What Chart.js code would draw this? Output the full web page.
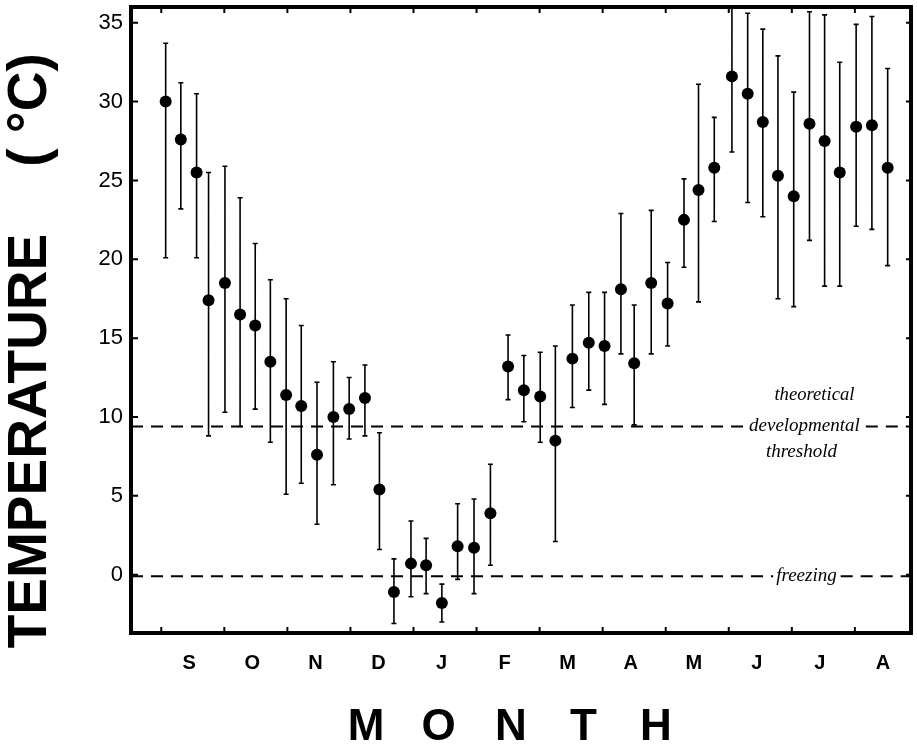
<!DOCTYPE html>
<html>
<head>
<meta charset="utf-8">
<script src="https://cdn.jsdelivr.net/npm/chart.js@4.4.1/dist/chart.umd.min.js"></script>
<style>
html,body{margin:0;padding:0;background:#fff;}
canvas{display:block;}
</style>
</head>
<body>
<canvas id="c" width="917" height="750"></canvas>
<script>
// ---- data ----
const monthLabels = ['S','O','N','D','J','F','M','A','M','J','J','A'];
const monthTicks  = [0,1,2,3,4,5,6,7,8,9,10,11];          // month boundaries (months since 1 Sept)
const tempTicks   = [0,5,10,15,20,25,30,35];

// sample positions (months since 1 Sept)
const sampleMonth = [0.07,0.31,0.56,0.75,1.01,1.25,1.49,1.73,1.98,2.22,2.47,2.73,2.98,3.23,3.46,3.69,
                     3.96,4.20,4.45,4.70,4.96,5.22,5.50,5.75,6.01,6.25,6.52,6.78,7.03,7.29,7.50,7.77,
                     8.03,8.29,8.52,8.77,9.05,9.30,9.54,9.78,10.03,10.28,10.52,10.76,11.02,11.27,11.52];
const meanTemp = [30.0,27.6,25.5,17.4,18.5,16.5,15.8,13.5,11.4,10.7,7.6,10.0,10.5,11.2,5.4,-1.1,
                  0.7,0.6,-1.8,1.8,1.7,3.9,13.2,11.7,11.3,8.5,13.7,14.7,14.5,18.1,13.4,18.5,
                  17.2,22.5,24.4,25.8,31.6,30.5,28.7,25.3,24.0,28.6,27.5,25.5,28.4,28.5,25.8];
const lowTemp  = [20.1,23.2,20.1,8.8,10.3,9.4,10.5,8.4,5.1,5.8,3.2,5.7,8.6,8.8,1.6,-3.1,
                  -1.4,-1.2,-3.0,-0.3,-1.2,0.6,11.1,9.7,8.4,2.1,10.6,11.7,10.8,14.0,9.5,14.0,
                  14.5,19.5,17.3,22.4,26.8,23.6,22.7,17.5,17.0,21.2,18.3,18.3,22.1,21.9,19.6];
const highTemp = [33.7,31.2,30.5,25.5,25.9,23.9,21.0,18.7,17.5,15.8,12.2,13.5,12.5,13.3,9.0,1.0,
                  3.4,2.3,-0.6,4.5,4.8,7.0,15.2,13.9,14.1,14.5,17.1,17.9,17.9,22.9,17.1,23.1,
                  19.8,25.1,31.1,29.0,36.0,35.6,34.6,32.9,30.6,35.7,35.5,32.5,34.9,35.4,32.1];

const thresholdTemp = 9.4;     // theoretical developmental threshold
const freezingTemp  = -0.1;    // freezing line as drawn
const thresholdText = ['theoretical','developmental','threshold'];
const freezingText  = 'freezing';
const yTitle = ['TEMPERATURE', '( °C)'];
const xTitle = 'MONTH';

// ---- drawing helpers ----
const SANS = '"Liberation Sans", Arial, Helvetica, sans-serif';
const HAND = '"Liberation Serif", "DejaVu Serif", serif';

const decor = {
  id: 'decor',
  beforeDatasetsDraw(chart) {
    const {ctx, chartArea: a, scales: {x, y}} = chart;
    ctx.save();
    ctx.beginPath();
    ctx.rect(a.left, a.top, a.right - a.left, a.bottom - a.top);
    ctx.clip();
    ctx.strokeStyle = '#000';
    ctx.fillStyle = '#000';

    // labels for the reference lines
    const labelX = x.getPixelForValue(10.2);
    ctx.font = 'italic 19px ' + HAND;
    ctx.textAlign = 'center';
    ctx.textBaseline = 'middle';
    const thY = y.getPixelForValue(thresholdTemp);
    const frY = y.getPixelForValue(freezingTemp);
    const devW = Math.min(ctx.measureText(thresholdText[1]).width, 126);
    const frW = Math.min(ctx.measureText(freezingText).width, 80);
    ctx.fillText(thresholdText[0], labelX + 10, thY - 31, 80);
    ctx.fillText(thresholdText[1], labelX, thY, 126);
    ctx.fillText(thresholdText[2], labelX - 3, thY + 26, 79);
    ctx.fillText(freezingText, labelX + 2, frY, 80);

    // dashed reference lines with gap for labels
    ctx.lineWidth = 2;
    ctx.setLineDash([12, 8]);
    ctx.beginPath();
    ctx.moveTo(a.left, thY); ctx.lineTo(labelX - devW / 2 - 4, thY);
    ctx.moveTo(labelX + devW / 2 + 6, thY); ctx.lineTo(a.right, thY);
    ctx.moveTo(a.left, frY); ctx.lineTo(labelX + 2 - frW / 2 - 3, frY);
    ctx.moveTo(labelX + 2 + frW / 2 + 4, frY); ctx.lineTo(a.right, frY);
    ctx.stroke();

    // error bars
    ctx.setLineDash([]);
    ctx.lineWidth = 1.6;
    ctx.beginPath();
    sampleMonth.forEach((m, i) => {
      const px = x.getPixelForValue(m);
      const yl = y.getPixelForValue(lowTemp[i]);
      const yh = y.getPixelForValue(highTemp[i]);
      ctx.moveTo(px, yl); ctx.lineTo(px, yh);
      ctx.moveTo(px - 2.5, yl); ctx.lineTo(px + 2.5, yl);
      ctx.moveTo(px - 2.5, yh); ctx.lineTo(px + 2.5, yh);
    });
    ctx.stroke();
    ctx.restore();
  },
  afterDatasetsDraw(chart) {
    const {ctx, chartArea: a, scales: {x, y}} = chart;
    ctx.save();
    ctx.strokeStyle = '#000';
    ctx.fillStyle = '#000';
    // frame
    ctx.lineWidth = 4;
    ctx.strokeRect(a.left, a.top, a.right - a.left, a.bottom - a.top);
    // inward ticks
    ctx.lineWidth = 2;
    ctx.beginPath();
    monthTicks.forEach(v => {
      const px = x.getPixelForValue(v);
      ctx.moveTo(px, a.bottom); ctx.lineTo(px, a.bottom - 6);
      ctx.moveTo(px, a.top); ctx.lineTo(px, a.top + 6);
    });
    tempTicks.forEach(v => {
      const py = y.getPixelForValue(v);
      ctx.moveTo(a.left, py); ctx.lineTo(a.left + 7, py);
      ctx.moveTo(a.right, py); ctx.lineTo(a.right - 5, py);
    });
    ctx.stroke();

    // y title (rotated)
    ctx.font = 'bold 55px ' + SANS;
    ctx.textAlign = 'center';
    ctx.textBaseline = 'middle';
    ctx.save();
    ctx.translate(31, 441);
    ctx.rotate(-Math.PI / 2);
    ctx.fillText(yTitle[0], 0, 0);
    ctx.restore();
    ctx.save();
    ctx.translate(31, 110);
    ctx.rotate(-Math.PI / 2);
    ctx.fillText(yTitle[1], 0, 0);
    ctx.restore();

    // x title, evenly spaced letters
    ctx.font = 'bold 44px ' + SANS;
    ctx.textBaseline = 'alphabetic';
    const letters = xTitle.split('');
    const step = 72.5;
    const cx = (x.left + x.right) / 2 - 10;
    letters.forEach((ch, i) => {
      ctx.fillText(ch, cx + (i - (letters.length - 1) / 2) * step, 740);
    });
    ctx.restore();
  }
};

new Chart(document.getElementById('c'), {
  type: 'scatter',
  data: {
    datasets: [{
      data: sampleMonth.map((m, i) => ({x: m, y: meanTemp[i]})),
      backgroundColor: '#000',
      borderWidth: 0,
      pointRadius: 6,
      pointHoverRadius: 6
    }]
  },
  options: {
    responsive: false,
    animation: false,
    devicePixelRatio: 1,
    layout: {padding: {top: 7, right: 2, left: 0, bottom: 0}},
    plugins: {legend: {display: false}, tooltip: {enabled: false}},
    scales: {
      x: {
        type: 'linear',
        min: -0.48,
        max: 11.89,
        grid: {display: false, drawTicks: false},
        border: {display: false},
        afterBuildTicks: s => { s.ticks = monthTicks.map(v => ({value: v})); },
        afterFit: s => { s.height = 117; s.paddingLeft = 0; s.paddingRight = 0; },
        ticks: {
          autoSkip: false,
          maxRotation: 0,
          padding: 18,
          labelOffset: 28,
          color: '#000',
          font: {family: SANS, size: 20, weight: 'bold'},
          callback: (v, i) => monthLabels[i]
        }
      },
      y: {
        type: 'linear',
        min: -3.7,
        max: 36,
        grid: {display: false, drawTicks: false},
        border: {display: false},
        afterBuildTicks: s => { s.ticks = tempTicks.map(v => ({value: v})); },
        afterFit: s => { s.width = 131; s.paddingTop = 0; s.paddingBottom = 0; },
        ticks: {
          padding: 8,
          color: '#000',
          font: {family: SANS, size: 22},
          callback: v => String(v)
        }
      }
    }
  },
  plugins: [decor]
});
</script>
</body>
</html>
